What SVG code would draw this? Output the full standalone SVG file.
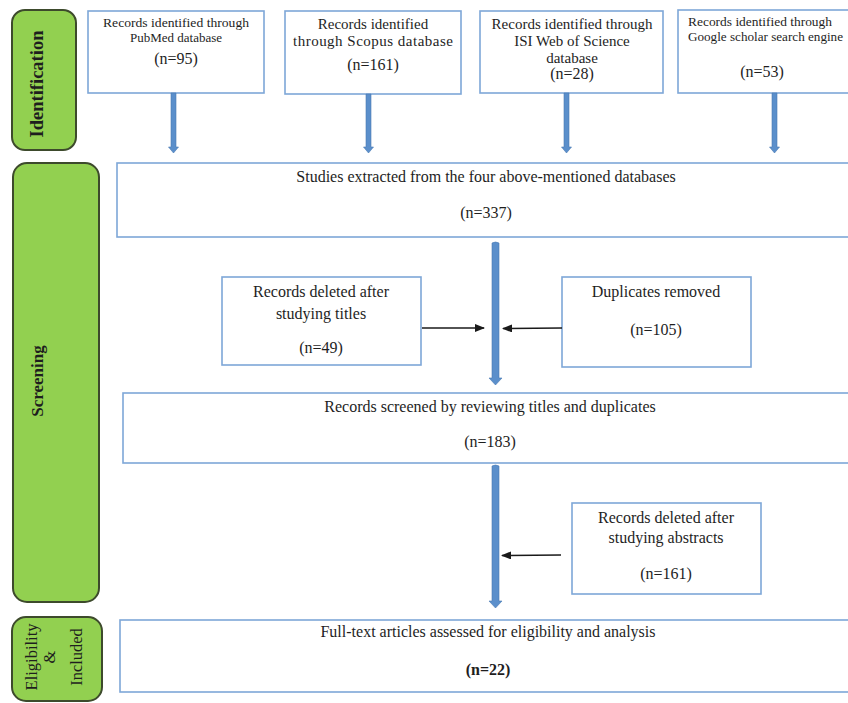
<svg xmlns="http://www.w3.org/2000/svg" width="848" height="703" viewBox="0 0 848 703">
<style>
.stage{fill:#92d050;stroke:#3d4a2c;stroke-width:2}
.box{fill:#ffffff;stroke:#7ea7d8;stroke-width:1.6}
text{font-family:"Liberation Serif","Times New Roman",serif;fill:#1e1e1e;text-anchor:middle}
.lab{font-weight:bold}
.s13{font-size:13px}
.s15{font-size:15px}
.s16{font-size:16px}
.fat{fill:#5b8fcb;stroke:#4a7ab3;stroke-width:0.6}
.thin{stroke:#1a1a1a;stroke-width:1.4;fill:none}
</style>
<defs>
<marker id="ah" viewBox="0 0 10 8" refX="9" refY="4" markerWidth="10" markerHeight="8" markerUnits="userSpaceOnUse" orient="auto">
<path d="M0,0 L10,4 L0,8 Z" fill="#1a1a1a"/>
</marker>
</defs>
<rect width="848" height="703" fill="#ffffff"/>

<g id="stage-identification">
<rect class="stage" x="12" y="10" width="64" height="140" rx="13"/>
<text class="lab" font-size="18.5" transform="translate(43,84) rotate(-90)">Identification</text>
</g>
<g id="stage-screening">
<rect class="stage" x="13" y="163" width="86" height="439" rx="14"/>
<text class="lab" font-size="17" transform="translate(43,381) rotate(-90)">Screening</text>
</g>
<g id="stage-eligibility">
<rect class="stage" x="12" y="617" width="90" height="84" rx="14"/>
<g transform="translate(0,657) rotate(-90)" font-size="16.5">
<text x="0" y="37">Eligibility</text>
<text x="0" y="55">&amp;</text>
<text x="0" y="82">Included</text>
</g>
</g>

<g id="pubmed">
<rect class="box" x="88" y="11" width="176" height="82"/>
<text class="s13" x="176" y="27" textLength="146" lengthAdjust="spacingAndGlyphs">Records identified through</text>
<text class="s13" x="176" y="42">PubMed database</text>
<text class="s16" x="176" y="64">(n=95)</text>
</g>
<g id="scopus">
<rect class="box" x="285" y="11" width="176" height="83"/>
<text class="s15" x="373" y="29">Records identified</text>
<text class="s15" x="373" y="46" textLength="160" lengthAdjust="spacing">through Scopus database</text>
<text class="s16" x="373" y="70">(n=161)</text>
</g>
<g id="isi">
<rect class="box" x="480" y="11" width="183" height="82"/>
<text class="s15" x="572" y="29">Records identified through</text>
<text class="s15" x="572" y="46">ISI Web of Science</text>
<text class="s15" x="572" y="63">database</text>
<text class="s16" x="572" y="79">(n=28)</text>
</g>
<g id="google">
<rect class="box" x="678" y="10" width="190" height="83"/>
<text class="s13" x="688" y="26" style="text-anchor:start" textLength="144" lengthAdjust="spacingAndGlyphs">Records identified through</text>
<text class="s13" x="688" y="41" style="text-anchor:start" textLength="155" lengthAdjust="spacingAndGlyphs">Google scholar search engine</text>
<text class="s16" x="762" y="77">(n=53)</text>
</g>

<g id="extracted">
<rect class="box" x="117" y="163" width="750" height="74"/>
<text class="s16" x="486" y="182">Studies extracted from the four above-mentioned databases</text>
<text class="s16" x="486" y="218">(n=337)</text>
</g>
<g id="deleted-titles">
<rect class="box" x="222" y="277" width="199" height="88"/>
<text class="s16" x="321" y="297">Records deleted after</text>
<text class="s16" x="321" y="319">studying titles</text>
<text class="s16" x="321" y="353">(n=49)</text>
</g>
<g id="duplicates">
<rect class="box" x="562" y="277" width="189" height="90"/>
<text class="s16" x="656" y="297">Duplicates removed</text>
<text class="s16" x="656" y="335">(n=105)</text>
</g>
<g id="screened">
<rect class="box" x="123" y="393" width="744" height="70"/>
<text class="s16" x="490" y="412">Records screened by reviewing titles and duplicates</text>
<text class="s16" x="490" y="447">(n=183)</text>
</g>
<g id="deleted-abstracts">
<rect class="box" x="572" y="503" width="189" height="91"/>
<text class="s16" x="666" y="523">Records deleted after</text>
<text class="s16" x="666" y="543">studying abstracts</text>
<text class="s16" x="666" y="579">(n=161)</text>
</g>
<g id="fulltext">
<rect class="box" x="120" y="620" width="747" height="72"/>
<text class="s16" x="488" y="637">Full-text articles assessed for eligibility and analysis</text>
<text class="s16 lab" x="488" y="675">(n=22)</text>
</g>

<g id="connectors">
<path class="fat" d="M171,93 h5 v54 h2.5 l-5,6 l-5,-6 h2.5 z"/>
<path class="fat" d="M366,94 h5 v53 h2.5 l-5,6 l-5,-6 h2.5 z"/>
<path class="fat" d="M564,93 h5 v54 h2.5 l-5,6 l-5,-6 h2.5 z"/>
<path class="fat" d="M772,93 h5 v54 h2.5 l-5,6 l-5,-6 h2.5 z"/>
<path class="fat" d="M492,243 q3.5,-2 7,0 v135 h3 l-6.5,7 l-6.5,-7 h3 z"/>
<path class="fat" d="M492,466 q3.5,-2 7,0 v135 h3 l-6.5,7 l-6.5,-7 h3 z"/>
<line class="thin" x1="422" y1="328" x2="484" y2="328" marker-end="url(#ah)"/>
<line class="thin" x1="562" y1="328" x2="503" y2="328.5" marker-end="url(#ah)"/>
<line class="thin" x1="561" y1="555" x2="502" y2="555.5" marker-end="url(#ah)"/>
</g>
</svg>
